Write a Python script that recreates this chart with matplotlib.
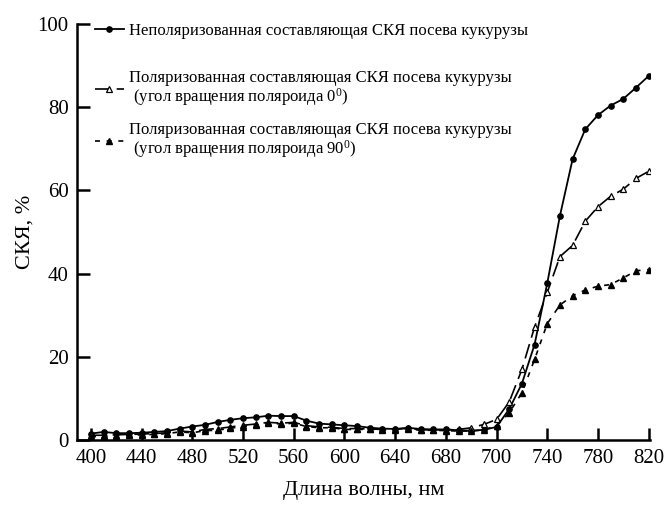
import numpy as np
import matplotlib
matplotlib.use('Agg')
import matplotlib.pyplot as plt

plt.rcParams['font.family'] = ['Liberation Serif', 'DejaVu Serif']
plt.rcParams['mathtext.default'] = 'regular'

## Data
wavelength = np.arange(400, 841, 10)
tick_pos = np.arange(400, 841, 40)
tick_labels = ['400', '440', '480', '520', '560', '600', '640', '680',
               '700', '740', '780', '820']

unpolarized = [1.6, 2.0, 1.7, 1.7, 1.8, 2.0, 2.2, 2.8, 3.3, 3.7,
               4.4, 4.9, 5.3, 5.5, 5.9, 5.8, 5.8, 4.7, 4.0, 3.8,
               3.6, 3.4, 3.0, 2.8, 2.7, 3.0, 2.7, 2.6, 2.6, 2.4,
               2.3, 2.5, 3.2, 7.5, 13.6, 23.0, 37.7, 53.9, 67.5, 74.7,
               78.1, 80.4, 82.0, 84.7, 87.5]
polar_0 = [1.2, 1.2, 1.3, 1.4, 1.5, 1.6, 1.8, 2.2, 2.0, 2.6,
           2.8, 3.2, 3.6, 3.9, 4.3, 4.1, 4.3, 3.5, 3.2, 3.1,
           2.8, 2.8, 2.7, 2.6, 2.6, 2.9, 2.5, 2.5, 2.5, 2.6,
           3.0, 3.8, 5.0, 9.2, 17.0, 27.2, 35.5, 44.1, 46.8, 52.6,
           56.1, 58.6, 60.3, 62.9, 64.6]
polar_90 = [0.8, 1.0, 1.1, 1.2, 1.3, 1.4, 1.6, 2.0, 1.8, 2.3,
            2.4, 2.9, 3.3, 3.7, 4.1, 3.9, 4.1, 3.3, 3.0, 3.0,
            2.6, 2.6, 2.6, 2.5, 2.5, 2.8, 2.4, 2.4, 2.3, 2.2,
            2.2, 2.5, 3.5, 6.6, 11.4, 19.4, 28.0, 32.5, 34.7, 36.1,
            37.0, 37.4, 39.0, 40.7, 41.0]

labels = ['Неполяризованная составляющая СКЯ посева кукурузы',
          'Поляризованная составляющая СКЯ посева кукурузы\n'
          ' (угол вращения поляроида 0$^0$)',
          'Поляризованная составляющая СКЯ посева кукурузы\n'
          ' (угол вращения поляроида 90$^0$)']

fig = plt.figure(figsize=(6.7, 5.21), dpi=100)
ax = fig.add_axes([0.115, 0.155, 0.855, 0.799])

l1, = ax.plot(wavelength, unpolarized, color='black', lw=1.3, marker='o',
              ms=3.8)
l2, = ax.plot(wavelength, polar_0, color='black', lw=1.2, dashes=(9, 4),
              marker='^', ms=4, mfc='white', mew=0.9)
l3, = ax.plot(wavelength, polar_90, color='black', lw=1.2, dashes=(3, 4),
              marker='^', ms=4)

ax.set_xlim(389, 841)
ax.set_ylim(0, 100)
ax.set_xticks(tick_pos)
ax.set_xticklabels(tick_labels)
ax.set_yticks(np.arange(0, 101, 20))

for side in ['top', 'right']:
    ax.spines[side].set_visible(False)
for side in ['left', 'bottom']:
    ax.spines[side].set_linewidth(1.8)
ax.tick_params(direction='in', length=9, width=1.8, labelsize=15, pad=6)

ax.set_xlabel('Длина волны, нм', fontsize=16, labelpad=10)
ax.set_ylabel('СКЯ, %', fontsize=16, labelpad=2)

# legend in two parts to match the uneven spacing
leg_kw = dict(loc='upper left', frameon=False, borderpad=0, borderaxespad=0,
              fontsize=12, handlelength=1.75, handletextpad=0.3)
leg1 = ax.legend([l1], labels[:1], bbox_to_anchor=(0.031, 1.003), **leg_kw)
ax.add_artist(leg1)
leg2 = ax.legend([l2, l3], labels[1:], bbox_to_anchor=(0.031, 0.89),
                 labelspacing=0.8, **leg_kw)
for t in leg2.get_texts():
    t.set_linespacing(1.05)

fig.savefig('out.png', dpi=100)
